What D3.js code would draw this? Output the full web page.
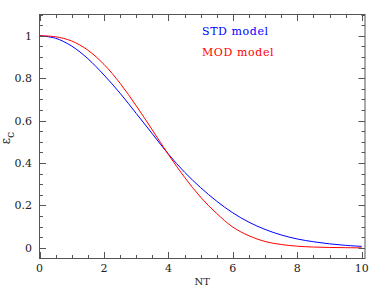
<!DOCTYPE html>
<html><head><meta charset="utf-8">
<script src="https://cdn.jsdelivr.net/npm/d3@7"></script>
<style>
html,body{margin:0;padding:0;background:#fff;}
svg text{font-family:"DejaVu Serif",serif;}
</style></head>
<body>
<script>
const nt = [0,0.5,1,1.5,2,2.5,3,3.5,4,4.5,5,5.5,6,6.5,7,7.5,8,8.5,9,9.5,10];
const stdModel = [1.000,0.988,0.951,0.892,0.815,0.729,0.634,0.538,0.442,0.357,0.284,0.220,0.165,0.121,0.087,0.061,0.042,0.029,0.019,0.012,0.007];
const modModel = [1.000,0.995,0.975,0.932,0.865,0.776,0.670,0.556,0.440,0.333,0.239,0.162,0.098,0.057,0.030,0.016,0.008,0.004,0.002,0.001,0.000];
const xTicks = [0,2,4,6,8,10];
const yTicks = [0,0.2,0.4,0.6,0.8,1];
const xTickLabels = ["0","2","4","6","8","10"];
const yTickLabels = ["0","0.2","0.4","0.6","0.8","1"];
const legendNames = ["STD model","MOD model"];
const colors = ["#0000ff","#ff0000"];

const W=389,H=291;
const L=39.5,R=365,T=14.5,B=258.5;
const svg=d3.select("body").append("svg").attr("width",W).attr("height",H);
const x=d3.scaleLinear().domain([0,10.1]).range([L,R]);
const y=d3.scaleLinear().domain([-0.05,1.1]).range([B,T]);

const frameColor="#555";
const series=[stdModel,modModel];
const line=d3.line().x((d,i)=>x(nt[i])).y(d=>y(d)).curve(d3.curveCatmullRom.alpha(0.5));
series.forEach((s,k)=>{
  svg.append("path").datum(s).attr("d",line).attr("fill","none")
    .attr("stroke",colors[k]).attr("stroke-width",1);
});

svg.append("rect").attr("x",L).attr("y",T).attr("width",R-L).attr("height",B-T)
  .attr("fill","none").attr("stroke",frameColor).attr("stroke-width",1);

const xMinor=d3.range(0,10.01,0.5), yMinor=d3.range(0,1.101,0.05);
const g=svg.append("g").attr("stroke",frameColor).attr("stroke-width",1);
xMinor.forEach(v=>{
  const major=Math.abs(v/2-Math.round(v/2))<1e-6;
  const len=major?6.5:3.5;
  const px=Math.round(x(v))+0.5;
  g.append("line").attr("x1",px).attr("x2",px).attr("y1",B).attr("y2",B-len);
  g.append("line").attr("x1",px).attr("x2",px).attr("y1",T).attr("y2",T+len);
});
yMinor.forEach(v=>{
  const major=Math.abs(v/0.2-Math.round(v/0.2))<1e-6;
  const len=major?6.5:3.5;
  const py=Math.round(y(v))+0.5;
  g.append("line").attr("x1",L).attr("x2",L+len).attr("y1",py).attr("y2",py);
  g.append("line").attr("x1",R).attr("x2",R-len).attr("y1",py).attr("y2",py);
});

xTicks.forEach((v,i)=>{
  svg.append("text").attr("x",x(v)).attr("y",272).attr("text-anchor","middle")
    .attr("font-size",11).attr("fill","#222").text(xTickLabels[i]);
});
yTicks.forEach((v,i)=>{
  svg.append("text").attr("x",32).attr("y",y(v)+4).attr("text-anchor","end")
    .attr("font-size",11).attr("fill","#222").text(yTickLabels[i]);
});

svg.append("text").attr("x",(L+R)/2).attr("y",285).attr("text-anchor","middle")
  .attr("font-size",10).attr("fill","#222").text("NT");
const yl=svg.append("text").attr("transform","translate(10,138) rotate(-90)")
  .attr("text-anchor","middle").attr("font-size",12).attr("fill","#222");
yl.append("tspan").text("ε");
yl.append("tspan").attr("dy",4).attr("font-size",11).text("c");

legendNames.forEach((n,k)=>{
  svg.append("text").attr("x",202).attr("y",34.5+k*21.5).attr("font-size",11)
    .attr("fill",colors[k]).attr("letter-spacing",0.6).text(n);
});
</script>
</body></html>
